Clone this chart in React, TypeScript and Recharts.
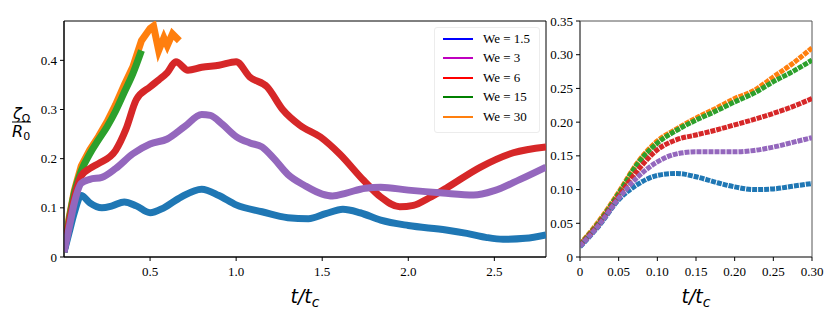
import React from 'react';
import { LineChart, Line, XAxis, YAxis, ReferenceArea } from 'recharts';

// long-time panel (left)
const T_BLUE = [0, 0.03, 0.06, 0.1, 0.15, 0.22, 0.28, 0.35, 0.42, 0.5, 0.58, 0.68, 0.8, 0.9, 1.0, 1.15, 1.3, 1.42, 1.52, 1.62, 1.72, 1.84, 2.0, 2.22, 2.34, 2.45, 2.55, 2.68, 2.8];
const V_BLUE = [0.01, 0.05, 0.09, 0.125, 0.11, 0.1, 0.104, 0.112, 0.104, 0.09, 0.1, 0.122, 0.138, 0.125, 0.106, 0.092, 0.08, 0.078, 0.088, 0.097, 0.09, 0.075, 0.064, 0.055, 0.048, 0.04, 0.036, 0.038, 0.045];

const T_PURPLE = [0, 0.03, 0.06, 0.1, 0.15, 0.22, 0.3, 0.4, 0.5, 0.6, 0.7, 0.8, 0.85, 0.92, 1.0, 1.08, 1.15, 1.22, 1.3, 1.4, 1.5, 1.56, 1.64, 1.75, 1.84, 2.0, 2.2, 2.38, 2.5, 2.65, 2.8];
const V_PURPLE = [0.01, 0.06, 0.11, 0.15, 0.158, 0.162, 0.18, 0.21, 0.23, 0.24, 0.265, 0.29, 0.288, 0.27, 0.245, 0.232, 0.224, 0.2, 0.168, 0.145, 0.128, 0.124, 0.13, 0.14, 0.142, 0.136, 0.13, 0.126, 0.135, 0.158, 0.183];

const T_RED = [0, 0.03, 0.06, 0.1, 0.15, 0.2, 0.3, 0.36, 0.42, 0.5, 0.55, 0.6, 0.65, 0.72, 0.8, 0.9, 1.0, 1.08, 1.18, 1.27, 1.37, 1.49, 1.6, 1.74, 1.84, 1.95, 2.03, 2.12, 2.22, 2.42, 2.61, 2.8];
const V_RED = [0.01, 0.07, 0.12, 0.165, 0.18, 0.19, 0.217, 0.26, 0.32, 0.346, 0.36, 0.375, 0.397, 0.38, 0.386, 0.39, 0.397, 0.366, 0.346, 0.3, 0.268, 0.244, 0.21, 0.156, 0.122, 0.102, 0.105, 0.12, 0.14, 0.183, 0.212, 0.224];

const T_GREEN = [0, 0.03, 0.06, 0.1, 0.15, 0.2, 0.25, 0.3, 0.35, 0.4, 0.45];
const V_GREEN = [0.01, 0.075, 0.13, 0.175, 0.21, 0.238, 0.265, 0.297, 0.335, 0.373, 0.42];

const T_ORANGE = [0, 0.03, 0.06, 0.1, 0.15, 0.2, 0.25, 0.3, 0.35, 0.4, 0.45, 0.5, 0.52, 0.55, 0.58, 0.6, 0.63, 0.67];
const V_ORANGE = [0.01, 0.08, 0.135, 0.185, 0.218, 0.245, 0.275, 0.31, 0.35, 0.387, 0.44, 0.465, 0.47, 0.42, 0.446, 0.43, 0.454, 0.44];

// early-time panel (right)
const T_EARLY = [0, 0.025, 0.05, 0.075, 0.1, 0.125, 0.15, 0.175, 0.2, 0.225, 0.25, 0.275, 0.3];
const E_BLUE = [0.015, 0.047, 0.085, 0.108, 0.121, 0.124, 0.119, 0.111, 0.104, 0.1, 0.101, 0.105, 0.109];
const E_PURPLE = [0.016, 0.048, 0.087, 0.119, 0.141, 0.153, 0.156, 0.156, 0.156, 0.158, 0.163, 0.17, 0.177];
const E_RED = [0.017, 0.05, 0.09, 0.129, 0.159, 0.174, 0.181, 0.188, 0.196, 0.204, 0.213, 0.223, 0.235];
const E_GREEN = [0.018, 0.052, 0.094, 0.139, 0.169, 0.188, 0.203, 0.216, 0.23, 0.243, 0.26, 0.275, 0.292];
const E_ORANGE = [0.019, 0.054, 0.096, 0.141, 0.172, 0.19, 0.206, 0.22, 0.235, 0.247, 0.267, 0.287, 0.31];

const LEGEND_NAMES = ['We = 1.5', 'We = 3', 'We = 6', 'We = 15', 'We = 30'];
const LEGEND_COLORS = ['#0000ff', '#bf00bf', '#ff0000', '#008000', '#ff7f0e'];

const LEFT_X_TICKS = [0.5, 1.0, 1.5, 2.0, 2.5];
const LEFT_Y_TICKS = [0, 0.1, 0.2, 0.3, 0.4];
const RIGHT_X_TICKS = [0, 0.05, 0.1, 0.15, 0.2, 0.25, 0.3];
const RIGHT_Y_TICKS = [0, 0.05, 0.1, 0.15, 0.2, 0.25, 0.3, 0.35];

const zip = (ts: number[], vs: number[]) => ts.map((t, i) => ({ t, v: vs[i] }));

// draw order matters for overlaps
const LEFT_SERIES = [
  { key: 'orange', color: '#ff7f0e', data: zip(T_ORANGE, V_ORANGE), kind: 'linear' },
  { key: 'green', color: '#2ca02c', data: zip(T_GREEN, V_GREEN), kind: 'monotone' },
  { key: 'red', color: '#d62728', data: zip(T_RED, V_RED), kind: 'monotone' },
  { key: 'blue', color: '#1f77b4', data: zip(T_BLUE, V_BLUE), kind: 'monotone' },
  { key: 'purple', color: '#9467bd', data: zip(T_PURPLE, V_PURPLE), kind: 'monotone' },
];

const RIGHT_SERIES = [
  { key: 'orange', color: '#ff7f0e', data: zip(T_EARLY, E_ORANGE) },
  { key: 'green', color: '#2ca02c', data: zip(T_EARLY, E_GREEN) },
  { key: 'red', color: '#d62728', data: zip(T_EARLY, E_RED) },
  { key: 'blue', color: '#1f77b4', data: zip(T_EARLY, E_BLUE) },
  { key: 'purple', color: '#9467bd', data: zip(T_EARLY, E_PURPLE) },
];

const SERIF = '"Liberation Serif", "Times New Roman", serif';
const MATH_FONT = '"DejaVu Sans", sans-serif';

const fmt1 = (v: number) => (v === 0 ? '0' : v.toFixed(1));
const fmt2 = (v: number) => (v === 0 ? '0' : v.toFixed(2));

// tick renderer so the serif face is actually used
const makeTick = (fmt: (v: number) => string, axis: 'x' | 'y') => (props: any) => {
  const { x, y, payload } = props;
  if (axis === 'x') {
    return (
      <text x={x} y={y} dy="0.71em" textAnchor="middle" fontFamily={SERIF} fontSize={13} fill="#000">
        {fmt(payload.value)}
      </text>
    );
  }
  return (
    <text x={x} y={y} dy="0.35em" textAnchor="end" fontFamily={SERIF} fontSize={13} fill="#000">
      {fmt(payload.value)}
    </text>
  );
};

const XLabel = ({ viewBox }: any) => {
  const cx = viewBox.x + viewBox.width / 2;
  return (
    <text x={cx} y={303} textAnchor="middle" fontFamily={MATH_FONT} fontSize={19} fontStyle="italic" fill="#000">
      t/t<tspan fontSize={14} dy={4}>c</tspan>
    </text>
  );
};

const YLabel = () => (
  <g fontFamily={MATH_FONT} fill="#000">
    <text x={13} y={119} fontSize={16} fontStyle="italic">ζ<tspan fontSize={11} dy={3} fontStyle="normal">Ω</tspan></text>
    <line x1={12} x2={31} y1={122} y2={122} stroke="#000" strokeWidth={1} />
    <text x={12} y={137} fontSize={16} fontStyle="italic">R<tspan fontSize={11} dy={3} fontStyle="normal">0</tspan></text>
  </g>
);

const LegendBox = () => (
  <div style={{ position: 'absolute', left: 434, top: 27, width: 106, boxSizing: 'border-box', border: '1px solid #ececec', borderRadius: 3, background: '#fff', padding: '1px 6px 5px 8px', fontFamily: SERIF, fontSize: 13 }}>
    {LEGEND_NAMES.map((name, i) => (
      <div key={name} style={{ display: 'flex', alignItems: 'center', height: 19.5 }}>
        <span style={{ display: 'inline-block', width: 30, height: 2, background: LEGEND_COLORS[i], marginRight: 10 }} />
        <span>{name}</span>
      </div>
    ))}
  </div>
);

export default function App() {
  return (
    <div style={{ position: 'absolute', left: 0, top: 0, width: 830, height: 316, background: '#fff', fontFamily: SERIF }}>
      <div style={{ position: 'absolute', left: 0, top: 0 }}>
        <LineChart width={560} height={316} margin={{ top: 21, right: 14, bottom: 29, left: 0 }}>
          <XAxis
            dataKey="t"
            type="number"
            domain={[0, 2.8]}
            ticks={LEFT_X_TICKS}
            allowDataOverflow
            interval={0}
            height={30}
            tick={makeTick(fmt1, 'x')}
            tickSize={4}
            tickMargin={6}
            stroke="#000"
            tickLine={{ stroke: '#000' }}
            label={<XLabel />}
          />
          <YAxis
            type="number"
            domain={[0, 0.48]}
            ticks={LEFT_Y_TICKS}
            allowDataOverflow
            interval={0}
            width={64}
            tick={makeTick(fmt1, 'y')}
            tickSize={4}
            tickMargin={3}
            stroke="#000"
            tickLine={{ stroke: '#000' }}
            label={<YLabel />}
          />
          <ReferenceArea x1={0} x2={2.8} y1={0} y2={0.48} fill="none" stroke="#000" strokeWidth={1} ifOverflow="visible" />
          {LEFT_SERIES.map((s) => (
            <Line
              key={s.key}
              data={s.data}
              dataKey="v"
              type={s.kind as any}
              stroke={s.color}
              strokeWidth={7}
              dot={false}
              isAnimationActive={false}
            />
          ))}
        </LineChart>
        <LegendBox />
      </div>
      <div style={{ position: 'absolute', left: 540, top: 0 }}>
        <LineChart width={290} height={316} margin={{ top: 21, right: 18, bottom: 29, left: 0 }}>
          <XAxis
            dataKey="t"
            type="number"
            domain={[0, 0.3]}
            ticks={RIGHT_X_TICKS}
            allowDataOverflow
            interval={0}
            height={30}
            tick={makeTick(fmt2, 'x')}
            tickSize={4}
            tickMargin={6}
            stroke="#555"
            tickLine={{ stroke: '#000' }}
            label={<XLabel />}
          />
          <YAxis
            type="number"
            domain={[0, 0.35]}
            ticks={RIGHT_Y_TICKS}
            allowDataOverflow
            interval={0}
            width={40}
            tick={makeTick(fmt2, 'y')}
            tickSize={4}
            tickMargin={3}
            stroke="#555"
            tickLine={{ stroke: '#000' }}
          />
          <ReferenceArea x1={0} x2={0.3} y1={0} y2={0.35} fill="none" stroke="#555" strokeWidth={1} ifOverflow="visible" />
          {RIGHT_SERIES.map((s) => (
            <Line
              key={s.key}
              data={s.data}
              dataKey="v"
              type="monotone"
              stroke={s.color}
              strokeWidth={5}
              strokeDasharray="5 1"
              dot={false}
              isAnimationActive={false}
            />
          ))}
        </LineChart>
      </div>
    </div>
  );
}
